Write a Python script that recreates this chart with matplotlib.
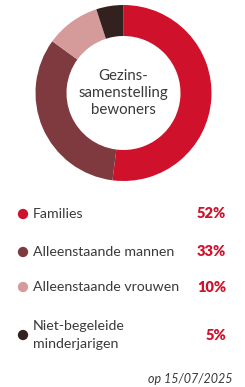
import matplotlib.pyplot as plt

labels = ["Families", "Alleenstaande mannen", "Alleenstaande vrouwen", "Niet-begeleide\nminderjarigen"]
shares = [52, 33, 10, 5]
colors = ["#d0112b", "#7f3a3f", "#d59a9a", "#33211f"]
title = "Gezins-\nsamenstelling\nbewoners"
date_note = "op 15/07/2025"

W, H = 245, 387
plt.rcParams['font.family'] = ['Lato', 'DejaVu Sans']
fig = plt.figure(figsize=(W / 100, H / 100), dpi=100)

# donut
ax = fig.add_axes([35.5 / W, 1 - 181 / H, 176 / W, 176 / H])
ax.pie(shares, colors=colors, startangle=90, counterclock=False, radius=1,
       wedgeprops=dict(width=31 / 88, edgecolor='none'))
ax.set_xlim(-1, 1)
ax.set_ylim(-1, 1)
ax.set_aspect('equal')
ax.axis('off')
ax.text(0, 0.0, title, ha='center', va='center', fontsize=10.8, color='#3a3a3a',
        linespacing=1.3)

# legend in pixel coords
lg = fig.add_axes([0, 0, 1, 1])
lg.set_xlim(0, W)
lg.set_ylim(H, 0)
lg.axis('off')
rows_y = [214, 252, 287, 335]
for y, lab, val, c in zip(rows_y, labels, shares, colors):
    lg.scatter([23], [y], s=55, color=c, edgecolors='none')
    lg.text(33, y, lab, ha='left', va='center', fontsize=10.2, color='#3a3a3a',
            linespacing=1.65)
    lg.text(226, y, f"{val}%", ha='right', va='center', fontsize=10.5,
            fontweight='heavy', color='#d0112b')
lg.text(232, 379, date_note, ha='right', va='center', fontsize=9,
        style='italic', color='#3a3a3a')

fig.savefig("out.png", dpi=100)
